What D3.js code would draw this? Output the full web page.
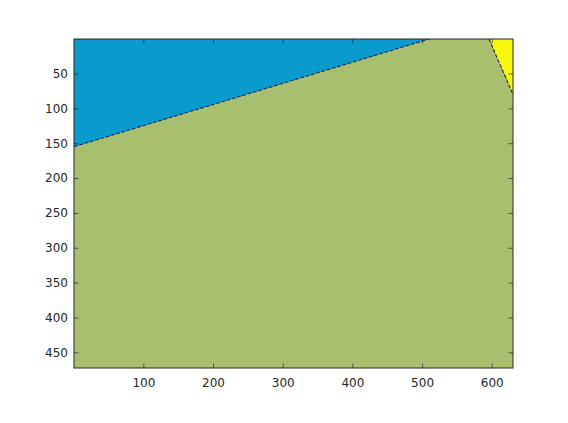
<!DOCTYPE html>
<html>
<head>
<meta charset="utf-8">
<script src="https://cdn.jsdelivr.net/npm/d3@7"></script>
<style>
  body { margin: 0; background: #fff; }
  svg { display: block; }
  .tick text { font-family: "DejaVu Sans", sans-serif; font-size: 12px; fill: #262626; }
</style>
</head>
<body>
<div id="chart"></div>
<script>
// image extent (pixel centres 1..N, limits at half pixels)
const nCols = 630;
const nRows = 472;

const xTicks = [100, 200, 300, 400, 500, 600];
const yTicks = [50, 100, 150, 200, 250, 300, 350, 400, 450];

// class regions, in image coordinates [col, row]
const blueRegion = [[0.5, 0.5], [510, 0.5], [0.5, 155]];
const yellowRegion = [[596, 0.5], [630.5, 0.5], [630.5, 80]];
const blueEdge = [[0.5, 155], [510, 0.5]];
const yellowEdge = [[596, 0.5], [630.5, 80]];

const colors = {green: "#a8bf6f", blue: "#0a9bce", yellow: "#f7f80e", edge: "#1f2a55"};

var W = 568, H = 423;
var margin = {top: 39, right: 55, bottom: 55, left: 74};
var width = W - margin.left - margin.right;
var height = H - margin.top - margin.bottom;

var svg = d3.select("#chart").append("svg")
	.attr("width", W)
	.attr("height", H);

var g = svg.append("g")
	.attr("transform", "translate(" + margin.left + "," + margin.top + ")");

var x = d3.scaleLinear().domain([0.5, nCols + 0.5]).range([0, width]);
var y = d3.scaleLinear().domain([0.5, nRows + 0.5]).range([0, height]);

g.append("defs").append("clipPath")
	.attr("id", "clip")
	.append("rect")
	.attr("width", width)
	.attr("height", height);

var img = g.append("g").attr("clip-path", "url(#clip)");

// background class fills the whole image
img.append("rect")
	.attr("x", x(0.5))
	.attr("y", y(0.5))
	.attr("width", x(nCols + 0.5) - x(0.5))
	.attr("height", y(nRows + 0.5) - y(0.5))
	.attr("fill", colors.green);

var line = d3.line().x(d => x(d[0])).y(d => y(d[1]));

img.append("path")
	.attr("d", line(blueRegion) + "Z")
	.attr("fill", colors.blue);

img.append("path")
	.attr("d", line(yellowRegion) + "Z")
	.attr("fill", colors.yellow);

// thin ragged boundary pixels
[blueEdge, yellowEdge].forEach(function(e) {
	img.append("path")
		.attr("d", line(e))
		.attr("fill", "none")
		.attr("stroke", colors.edge)
		.attr("stroke-width", 1.1)
		.attr("stroke-dasharray", "4,1.5");
});

// axes (ticks inside, box on)
var tickLen = 4.5;
var xAxis = d3.axisBottom(x).tickValues(xTicks).tickSize(-tickLen).tickPadding(10).tickSizeOuter(0);
var yAxis = d3.axisLeft(y).tickValues(yTicks).tickSize(-tickLen).tickPadding(6).tickSizeOuter(0);
var xAxisTop = d3.axisTop(x).tickValues(xTicks).tickSize(-tickLen).tickFormat("").tickSizeOuter(0);
var yAxisRight = d3.axisRight(y).tickValues(yTicks).tickSize(-tickLen).tickFormat("").tickSizeOuter(0);

g.append("g").attr("transform", "translate(0," + height + ")").call(xAxis);
g.append("g").call(yAxis);
g.append("g").call(xAxisTop);
g.append("g").attr("transform", "translate(" + width + ",0)").call(yAxisRight);

g.selectAll(".domain").remove();
g.selectAll(".tick line").attr("stroke", "#262626").attr("stroke-width", 0.7);

g.append("rect")
	.attr("x", 0)
	.attr("y", 0)
	.attr("width", width)
	.attr("height", height)
	.attr("fill", "none")
	.attr("stroke", "#262626")
	.attr("stroke-width", 1);
</script>
</body>
</html>
